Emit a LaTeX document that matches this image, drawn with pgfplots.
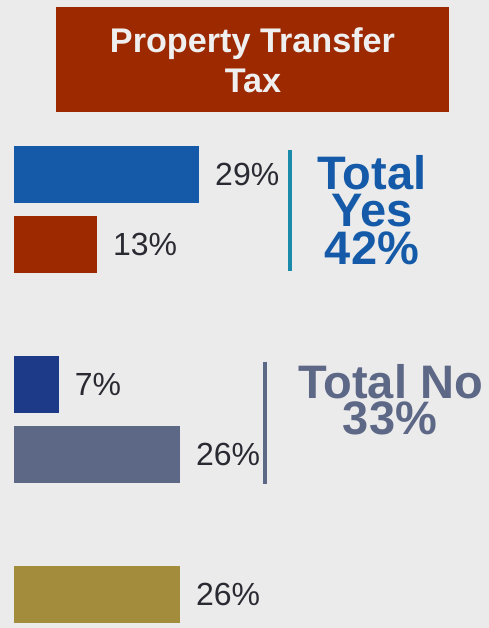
\documentclass[border=0pt]{standalone}
\usepackage{fontspec}
\setmainfont{Liberation Sans}
\usepackage{pgfplots}
\pgfplotsset{compat=1.18}
\definecolor{bg}{HTML}{EBEBEB}
\definecolor{titlered}{HTML}{9C2900}
\definecolor{titletext}{HTML}{EFEFEF}
\definecolor{cblue}{HTML}{145AA8}
\definecolor{cred}{HTML}{9C2900}
\definecolor{cnavy}{HTML}{1C3A87}
\definecolor{cslate}{HTML}{5D6786}
\definecolor{colive}{HTML}{A38C3C}
\definecolor{cteal}{HTML}{1A8AAA}
\definecolor{labeltext}{HTML}{2A2A33}
\begin{document}
\begin{tikzpicture}
\path[use as bounding box, fill=bg] (0pt,0pt) rectangle (489pt,628pt);
\fill[titlered] (56pt,516pt) rectangle (449pt,621pt);
\node[anchor=base, text=titletext, inner sep=0pt, font=\bfseries\fontsize{34.2}{40}\selectfont] at (252.5pt,575.7pt) {Property Transfer};
\node[anchor=base, text=titletext, inner sep=0pt, font=\bfseries\fontsize{34.2}{40}\selectfont] at (253pt,535.3pt) {Tax};
\begin{axis}[
  at={(14pt,488.5pt)}, anchor=north west,
  scale only axis, width=446.6pt, height=490pt,
  xmin=0, xmax=70, ymin=-0.5, ymax=6.5, y dir=reverse,
  hide axis, clip=false,
  xbar, bar width=57pt, bar shift=0pt,
  nodes near coords, point meta=explicit symbolic,
  every node near coord/.append style={anchor=west, inner sep=0pt, xshift=16pt, text=labeltext, font=\fontsize{32}{38}\selectfont},
]
\addplot[xbar, bar shift=0pt, draw=none, fill=cblue] coordinates {(29,0) [29\%]};
\addplot[xbar, bar shift=0pt, draw=none, fill=cred] coordinates {(13,1) [13\%]};
\addplot[xbar, bar shift=0pt, draw=none, fill=cnavy] coordinates {(7,3) [7\%]};
\addplot[xbar, bar shift=0pt, draw=none, fill=cslate] coordinates {(26,4) [26\%]};
\addplot[xbar, bar shift=0pt, draw=none, fill=colive] coordinates {(26,6) [26\%]};
\end{axis}
\draw[cteal, line width=4pt] (289.5pt,478pt) -- (289.5pt,356.5pt);
\draw[cslate, line width=3.4pt] (265pt,266pt) -- (265pt,144pt);
\begin{scope}[every node/.style={anchor=base, inner sep=0pt, text height=34pt, text depth=0pt, font=\bfseries\fontsize{47}{47}\selectfont}]
\node[text=cblue] at (372pt,438pt) {Total};
\node[text=cblue] at (372.5pt,401.3pt) {Yes};
\node[text=cblue] at (372pt,363pt) {42\%};
\node[text=cslate] at (390.5pt,229.7pt) {Total No};
\node[text=cslate] at (390pt,193pt) {33\%};
\end{scope}
\end{tikzpicture}
\end{document}
